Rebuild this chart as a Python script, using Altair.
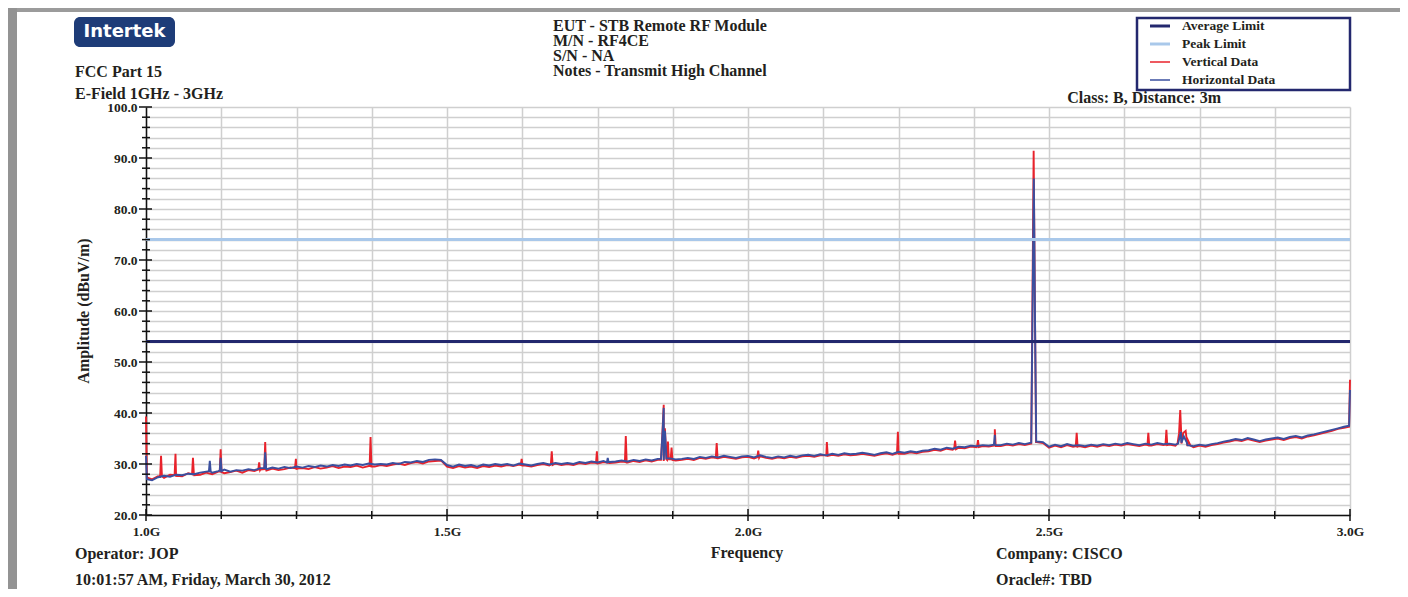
import altair as alt
import pandas as pd

# ---------------- data ----------------
# sweep grid of the analyser: 1.00 .. 3.00 GHz in 0.01 GHz steps
FREQ_START = 1.0
FREQ_STEP = 0.01

vertical_base = [
    39.3, 27.0, 27.6, 27.3, 27.9, 27.5, 27.6, 28.2, 27.8, 27.9,
    28.3, 28.0, 28.5, 28.2, 28.4, 28.7, 28.3, 28.8, 28.6, 28.9,
    28.7, 29.1, 28.8, 29.0, 29.3, 28.9, 29.2, 29.0, 29.4, 29.1,
    29.3, 29.6, 29.2, 29.5, 29.4, 29.7, 29.3, 29.6, 29.5, 29.8,
    29.6, 29.9, 30.1, 29.8, 30.2, 30.4, 30.1, 30.5, 30.6, 30.7,
    29.5, 29.2, 29.6, 29.3, 29.5, 29.2, 29.6, 29.4, 29.7, 29.5,
    29.8, 29.6, 29.9, 29.7, 29.5, 29.8, 30.0, 29.7, 30.1, 29.8,
    30.0, 29.8, 30.2, 30.0, 30.3, 30.1, 30.4, 30.2, 30.3, 30.5,
    30.3, 30.6, 30.4, 30.7, 30.5, 30.8, 30.6, 30.9, 30.7, 30.8,
    31.0, 30.8, 31.2, 31.0, 31.3, 31.1, 31.4, 31.2, 31.0, 31.3,
    31.4, 31.1, 31.5, 31.2, 31.0, 31.3, 31.1, 31.4, 31.2, 31.5,
    31.6, 31.4, 31.7, 31.5, 31.8, 31.6, 31.9, 31.7, 31.8, 32.0,
    31.8, 31.6, 31.9, 32.1, 31.8, 32.2, 32.0, 32.3, 32.1, 32.4,
    32.5, 32.8, 32.6, 33.0, 32.8, 33.2, 33.1, 33.4, 33.3, 33.5,
    33.4, 33.7, 33.5, 33.8, 33.6, 33.9, 33.7, 34.0, 34.3, 34.1,
    33.2, 33.6, 33.3, 33.7, 33.4, 33.5, 33.3, 33.6, 33.4, 33.7,
    33.5, 33.8, 33.6, 33.9, 33.7, 33.5, 33.8, 33.6, 33.9, 33.7,
    33.8, 33.6, 34.0, 33.5, 33.3, 33.6, 33.4, 33.7, 33.9, 34.2,
    34.4, 34.7, 34.5, 34.9, 34.6, 34.3, 34.6, 34.8, 35.0, 34.7,
    35.1, 35.3, 35.0, 35.4, 35.6, 35.9, 36.2, 36.5, 36.9, 37.1,
    46.5,
]

horizontal_base = [
    31.6, 26.8, 27.4, 27.7, 27.5, 27.9, 27.8, 28.1, 28.0, 28.3,
    28.5, 28.3, 28.6, 28.9, 28.5, 28.8, 28.7, 29.0, 28.8, 29.2,
    29.0, 29.3, 29.1, 29.4, 29.2, 29.5, 29.3, 29.6, 29.4, 29.7,
    29.5, 29.8, 29.6, 29.9, 29.7, 30.0, 29.8, 30.1, 29.9, 30.0,
    29.9, 30.2, 30.0, 30.4, 30.3, 30.6, 30.4, 30.8, 30.9, 30.8,
    29.8, 29.5, 29.9, 29.6, 29.8, 29.5, 29.9, 29.7, 30.0, 29.8,
    30.0, 29.7, 30.1, 29.9, 29.7, 30.0, 30.2, 29.9, 30.2, 30.0,
    30.2, 30.0, 30.4, 30.2, 30.5, 30.3, 30.6, 30.4, 30.5, 30.7,
    30.5, 30.8, 30.6, 30.9, 30.7, 31.0, 30.8, 31.1, 30.9, 31.0,
    31.2, 31.0, 31.4, 31.2, 31.5, 31.3, 31.6, 31.4, 31.2, 31.5,
    31.6, 31.3, 31.7, 31.4, 31.2, 31.5, 31.3, 31.6, 31.4, 31.7,
    31.8, 31.6, 31.9, 31.7, 32.0, 31.8, 32.1, 31.9, 32.0, 32.2,
    32.0, 31.8, 32.1, 32.3, 32.0, 32.4, 32.2, 32.5, 32.3, 32.6,
    32.7, 33.0, 32.8, 33.2, 33.0, 33.4, 33.3, 33.6, 33.5, 33.7,
    33.6, 33.9, 33.7, 34.0, 33.8, 34.1, 33.9, 34.2, 34.4, 34.3,
    33.4, 33.8, 33.5, 33.9, 33.6, 33.7, 33.5, 33.8, 33.6, 33.9,
    33.7, 34.0, 33.8, 34.1, 33.9, 33.7, 34.0, 33.8, 34.1, 33.9,
    34.0, 33.8, 34.2, 33.7, 33.5, 33.8, 33.6, 33.9, 34.1, 34.4,
    34.6, 34.9, 34.7, 35.1, 34.8, 34.5, 34.8, 35.0, 35.2, 34.9,
    35.3, 35.5, 35.2, 35.6, 35.8, 36.1, 36.4, 36.7, 37.0, 37.3,
    44.5,
]

# narrow emissions (spikes) between sweep points
vertical_spike_freq = [
    1.0015,
    1.0235, 1.025, 1.0265, 1.0475, 1.049, 1.0505, 1.0765, 1.078, 1.0795,
    1.1225, 1.124, 1.1255, 1.1865, 1.188, 1.1895, 1.1965, 1.198, 1.1995,
    1.2475, 1.249, 1.2505, 1.3715, 1.373, 1.3745,
    1.6225, 1.624, 1.6255, 1.6725, 1.674, 1.6755, 1.7475, 1.749, 1.7505,
    1.7955, 1.797, 1.7985, 1.8555, 1.858, 1.860, 1.862, 1.8645,
    1.8655, 1.867, 1.8685, 1.8715, 1.873, 1.8745, 1.9465, 1.948, 1.9495,
    2.0155, 2.017, 2.0185, 2.1295, 2.131, 2.1325, 2.2475, 2.249, 2.2505,
    2.3425, 2.344, 2.3455, 2.3805, 2.382, 2.3835, 2.4085, 2.410, 2.4115,
    2.4705, 2.4725, 2.4745, 2.4765, 2.4785,
    2.5445, 2.546, 2.5475, 2.6635, 2.665, 2.6665, 2.6935, 2.695, 2.6965,
    2.7135, 2.716, 2.718, 2.7195, 2.723, 2.727, 2.731, 2.735,
    2.9985,
]
vertical_spike_amp = [
    27.4,
    27.5, 31.6, 27.6, 27.8, 32.0, 27.7, 28.0, 31.2, 28.1,
    28.5, 32.9, 28.4, 28.9, 30.3, 28.8, 29.0, 34.3, 28.9,
    29.2, 31.0, 29.1, 29.6, 35.3, 29.5,
    29.8, 31.0, 29.7, 29.9, 32.5, 29.8, 30.2, 32.5, 30.1,
    30.4, 35.5, 30.3, 30.8, 36.5, 41.6, 37.0, 30.9,
    30.8, 34.4, 30.9, 30.9, 33.2, 30.8, 31.2, 34.1, 31.1,
    31.3, 32.6, 31.2, 31.7, 34.3, 31.6, 32.1, 36.3, 32.0,
    33.0, 34.6, 32.9, 33.4, 34.7, 33.3, 33.6, 36.8, 33.5,
    34.0, 62.0, 91.4, 62.0, 34.3,
    33.5, 36.1, 33.4, 33.7, 36.1, 33.6, 33.8, 36.7, 33.7,
    34.0, 36.0, 40.6, 36.4, 36.1, 36.5, 34.6, 33.6,
    37.3,
]

horizontal_spike_freq = [
    1.0015,
    1.1045, 1.106, 1.1075, 1.1225, 1.124, 1.1255, 1.1965, 1.198, 1.1995,
    1.7655, 1.767, 1.7685, 1.8555, 1.858, 1.860, 1.862, 1.8645,
    2.4085, 2.410, 2.4115, 2.4705, 2.4725, 2.4748, 2.4768, 2.4788,
    2.7145, 2.719, 2.724, 2.729,
    2.9985,
]
horizontal_spike_amp = [
    27.0,
    28.6, 30.6, 28.5, 28.7, 31.2, 28.6, 29.2, 32.3, 29.1,
    30.3, 31.2, 30.4, 31.0, 36.0, 41.0, 36.5, 31.1,
    33.8, 35.7, 33.7, 34.2, 58.0, 86.0, 58.0, 34.4,
    34.0, 36.3, 35.4, 34.2,
    37.5,
]

limit_names = ["Average Limit", "Peak Limit"]
limit_values = [54.0, 74.0]

legend_labels = ["Average Limit", "Peak Limit", "Vertical Data", "Horizontal Data"]
legend_colors = ["#23286e", "#a9c8ea", "#e8222b", "#3a4f9f"]
legend_widths = [3, 3, 1.5, 1.5]

x_tick_values = [1.0, 1.125, 1.25, 1.375, 1.5, 1.625, 1.75, 1.875, 2.0,
                 2.125, 2.25, 2.375, 2.5, 2.625, 2.75, 2.875, 3.0]
x_major_ticks = [1.0, 1.5, 2.0, 2.5, 3.0]
y_tick_values = list(range(20, 101, 2))
y_major_ticks = list(range(20, 101, 10))

header_lines = ["EUT - STB Remote RF Module", "M/N - RF4CE", "S/N - NA",
                "Notes - Transmit High Channel"]

# ---------------- tables ----------------
base_freq = [round(FREQ_START + i * FREQ_STEP, 4) for i in range(len(vertical_base))]

vert = pd.DataFrame({"freq": base_freq + vertical_spike_freq,
                     "amp": vertical_base + vertical_spike_amp}).sort_values("freq")
horiz = pd.DataFrame({"freq": base_freq + horizontal_spike_freq,
                      "amp": horizontal_base + horizontal_spike_amp}).sort_values("freq")
limits = pd.DataFrame({"name": limit_names, "amp": limit_values})

# ---------------- layout ----------------
W, H = 1204, 408
SERIF = "Liberation Serif"
INK = "#231f20"

x_scale = alt.Scale(domain=[1.0, 3.0], nice=False, zero=False)
y_scale = alt.Scale(domain=[20, 100], nice=False, zero=False)

x_axis = alt.Axis(values=x_tick_values, title=None, grid=True, gridColor="#cfcfcf",
                  gridWidth=1.5, ticks=False, tickSize=0, domain=True, domainColor="#111",
                  domainWidth=1.5, labelFont=SERIF, labelFontWeight="bold",
                  labelFontSize=13.5, labelColor=INK, labelPadding=9, labelFlush=False,
                  labelOverlap=False,
                  labelExpr="(datum.value * 2) % 1 === 0 ? format(datum.value, '.1f') + 'G' : ''")
y_axis = alt.Axis(values=y_tick_values, title=None, grid=True, gridColor="#cfcfcf",
                  gridWidth=1.5, ticks=False, tickSize=0, domain=True, domainColor="#111",
                  domainWidth=1.5, labelFont=SERIF, labelFontWeight="bold",
                  labelFontSize=13.5, labelColor=INK, labelPadding=9, labelOverlap=False,
                  labelExpr="datum.value % 10 === 0 ? format(datum.value, '.1f') : ''")

X = lambda f: alt.X(f, scale=x_scale, axis=x_axis)
Y = lambda f: alt.Y(f, scale=y_scale, axis=y_axis)


def txt(s, x, y, size=16, align="left", baseline="alphabetic", angle=0,
        color=INK, font=SERIF, weight="bold"):
    return alt.Chart(pd.DataFrame({"t": [s]})).mark_text(
        align=align, baseline=baseline, angle=angle, fontSize=size, font=font,
        fontWeight=weight, color=color).encode(x=alt.value(x), y=alt.value(y), text="t:N")


def box(x, x2, y, y2, **kw):
    return alt.Chart(pd.DataFrame({"k": [0]})).mark_rect(**kw).encode(
        x=alt.value(x), x2=alt.value(x2), y=alt.value(y), y2=alt.value(y2))


layers = []

# page frame (gray bars on top and left)
layers.append(box(-131, W + 50, -99, -95, color="#9b9b9b"))
layers.append(box(-138, -129, -99, H + 74, color="#939393"))

# data traces
layers.append(alt.Chart(vert).mark_line(color=legend_colors[2], strokeWidth=1.9)
              .encode(x=X("freq:Q"), y=Y("amp:Q")))
layers.append(alt.Chart(horiz).mark_line(color=legend_colors[3], strokeWidth=1.9)
              .encode(x=X("freq:Q"), y=Y("amp:Q")))

# limit lines
for i, nm in enumerate(limit_names):
    layers.append(alt.Chart(limits[limits["name"] == nm]).mark_rule(
        color=legend_colors[i], strokeWidth=3).encode(
        y=Y("amp:Q"), x=alt.value(0), x2=alt.value(W)))

# crossing tick marks
ymaj = pd.DataFrame({"v": y_major_ticks})
ymin = pd.DataFrame({"v": [v for v in y_tick_values if v not in y_major_ticks]})
xmaj = pd.DataFrame({"v": x_major_ticks})
xmin = pd.DataFrame({"v": [v for v in x_tick_values if v not in x_major_ticks]})
layers.append(alt.Chart(ymaj).mark_rule(color="#111", strokeWidth=1.5).encode(
    y=Y("v:Q"), x=alt.value(-7), x2=alt.value(6)))
layers.append(alt.Chart(ymin).mark_rule(color="#111", strokeWidth=1.5).encode(
    y=Y("v:Q"), x=alt.value(-4), x2=alt.value(4)))
layers.append(alt.Chart(xmaj).mark_rule(color="#111", strokeWidth=1.5).encode(
    x=X("v:Q"), y=alt.value(H - 6), y2=alt.value(H + 6)))
layers.append(alt.Chart(xmin).mark_rule(color="#111", strokeWidth=1.5).encode(
    x=X("v:Q"), y=alt.value(H - 4), y2=alt.value(H + 4)))

# logo
layers.append(box(-72, 29, -90, -60, color="#1e3c78", cornerRadius=6))
layers.append(txt("Intertek", -21.5, -75, size=18, align="center", baseline="middle",
                  color="#ffffff", font="DejaVu Sans"))

# header texts
layers.append(txt("FCC Part 15", -71, -30))
layers.append(txt("E-Field 1GHz - 3GHz", -71, -8))
for i, line in enumerate(header_lines):
    layers.append(txt(line, 407, -76 + 15 * i))
layers.append(txt("Class: B, Distance: 3m", 1075, -4, align="right"))

# legend
layers.append(box(991, 1204, -89, -17, fill="#ffffff", stroke="#23286e", strokeWidth=2.5))
for i, lab in enumerate(legend_labels):
    yy = -81 + 18 * i
    layers.append(alt.Chart(pd.DataFrame({"k": [0]})).mark_rule(
        color=legend_colors[i], strokeWidth=legend_widths[i]).encode(
        x=alt.value(1004), x2=alt.value(1024), y=alt.value(yy)))
    layers.append(txt(lab, 1036, yy, size=13.5, baseline="middle"))

# axis titles and footer
layers.append(txt("Amplitude (dBuV/m)", -57, 204, align="center", angle=270))
layers.append(txt("Frequency", 601, 451, align="center"))
layers.append(txt("Operator: JOP", -71, 452))
layers.append(txt("10:01:57 AM, Friday, March 30, 2012", -71, 477.5))
layers.append(txt("Company: CISCO", 850, 452))
layers.append(txt("Oracle#: TBD", 850, 477.5))

chart = alt.layer(*layers).properties(
    width=W, height=H,
    padding={"left": 138, "top": 99, "right": 50, "bottom": 74},
    autosize=alt.AutoSizeParams(type="none"),
    background="#ffffff",
).configure_view(strokeOpacity=0)

chart.save("out.html", embed_options={"renderer": "svg", "actions": False})
